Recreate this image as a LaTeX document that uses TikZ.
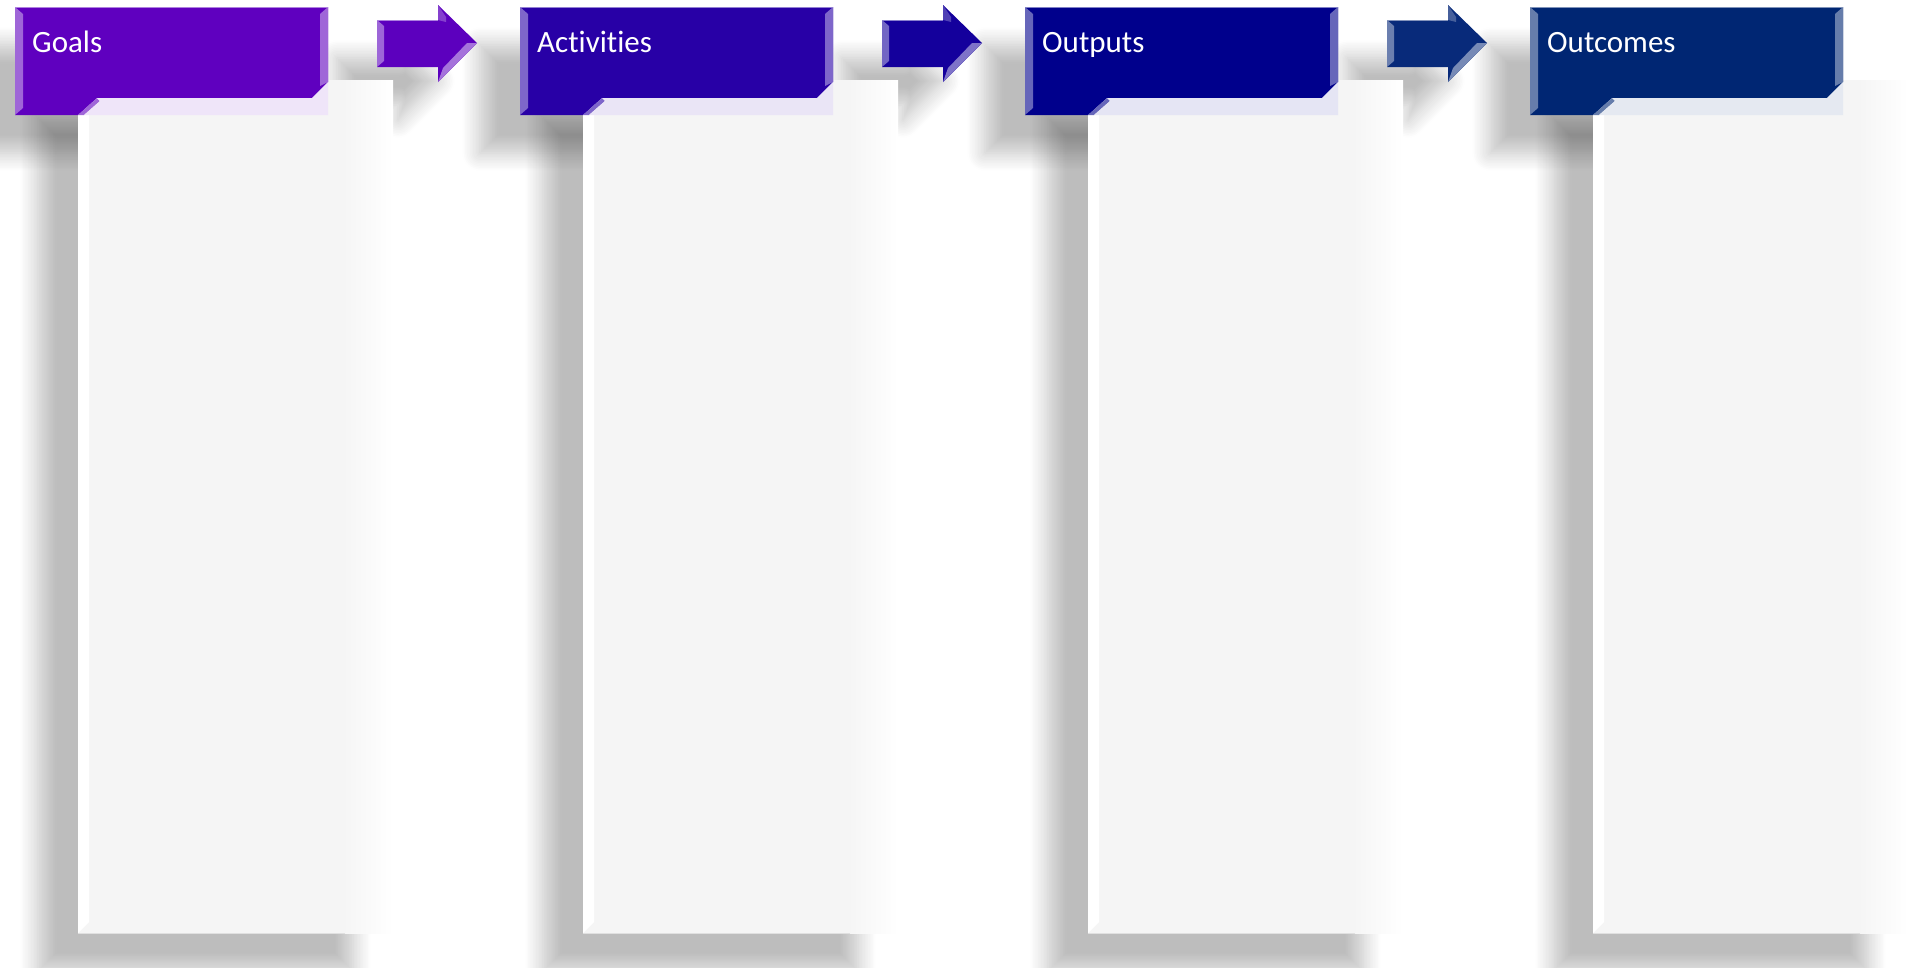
\documentclass[tikz,border=0pt]{standalone}
\usepackage{fontspec}
\setmainfont{Carlito}[Ligatures=NoCommon]
\usetikzlibrary{shadows.blur}

\definecolor{goalcol}{RGB}{95,0,191}
\definecolor{activcol}{RGB}{40,0,166}
\definecolor{outputcol}{RGB}{0,0,140}
\definecolor{outcomecol}{RGB}{0,38,115}
\definecolor{arrowa}{RGB}{92,0,190}
\definecolor{arrowb}{RGB}{20,0,156}
\definecolor{arrowc}{RGB}{8,42,122}
\definecolor{panelgray}{RGB}{245,245,245}

\tikzset{
  dropshadow/.style={blur shadow={shadow xshift=-40pt, shadow yshift=-38pt,
      shadow blur radius=18pt, shadow opacity=26, shadow blur steps=12}},
  heading/.style={text=white, font=\fontsize{31}{37}\selectfont,
      anchor=base west, inner sep=0pt},
}

\begin{document}
\begin{tikzpicture}[x=1pt,y=-1pt]
    \useasboundingbox (0,0) rectangle (1910,967);
    %shadows
    \foreach \o in {0,505,1010,1515} {
        \path[dropshadow] (\o+78,80) rectangle (\o+393,933);
        \path[dropshadow] (\o+15,7) rectangle (\o+328,115);
    }
    \foreach \o in {0,505,1010}
        \path[dropshadow] (\o+377,20) -- (\o+438,20) -- (\o+438,5) -- (\o+477,43) -- (\o+438,82) -- (\o+438,67) -- (\o+377,67) -- cycle;
    %panels and headers
    \foreach \o/\hcol/\txt/\nm in {0/goalcol/Goals/goals,505/activcol/Activities/activities,1010/outputcol/Outputs/outputs,1515/outcomecol/Outcomes/outcomes} {
        \fill[panelgray] (\o+78,80) rectangle (\o+393,933);
        \shade[left color=panelgray, right color=white] (\o+343,80) rectangle (\o+393,933);
        \fill[white] (\o+78,115) -- (\o+89,115) -- (\o+89,922) -- (\o+78,933) -- cycle;
        \draw[black!12] (\o+78,933) -- (\o+345,933);
        % header tab
        \fill[\hcol] (\o+15,7) -- (\o+328,7) -- (\o+328,82) -- (\o+312,98) -- (\o+97,98) -- (\o+78,115) -- (\o+15,115) -- cycle;
        \fill[\hcol!60!white] (\o+15,7) -- (\o+23,14) -- (\o+23,108) -- (\o+15,115) -- cycle;
        \fill[\hcol!60!white] (\o+328,7) -- (\o+320,14) -- (\o+320,86) -- (\o+328,82) -- cycle;
        \fill[\hcol!60!white] (\o+78,115) -- (\o+97,98) -- (\o+100,101) -- (\o+84,115) -- cycle;
        \draw[\hcol!50!white, line width=1.5] (\o+15,7.5) -- (\o+328,7.5);
        \fill[\hcol!10!white] (\o+97,98) -- (\o+312,98) -- (\o+328,82) -- (\o+328,115) -- (\o+84,115) -- (\o+100,101) -- cycle;
        \node[heading] (\nm) at (\o+32,52) {\txt};
    }
    %arrows
    \foreach \o/\acol in {0/arrowa,505/arrowb,1010/arrowc} {
        \fill[\acol] (\o+377,20) -- (\o+438,20) -- (\o+438,5) -- (\o+477,43) -- (\o+438,82) -- (\o+438,67) -- (\o+377,67) -- cycle;
        \fill[\acol!55!white] (\o+438,82) -- (\o+477,43) -- (\o+467,43) -- (\o+443,68) -- cycle;
        \fill[\acol!60!white] (\o+377,20) -- (\o+384,26) -- (\o+384,61) -- (\o+377,67) -- cycle;
        \fill[\acol!75!white] (\o+438,5) -- (\o+446,17) -- (\o+446,22) -- (\o+438,20) -- cycle;
        \draw[\acol!50!white, line width=1.2] (\o+377,20.5) -- (\o+438,20.5);
    }
\end{tikzpicture}
\end{document}
